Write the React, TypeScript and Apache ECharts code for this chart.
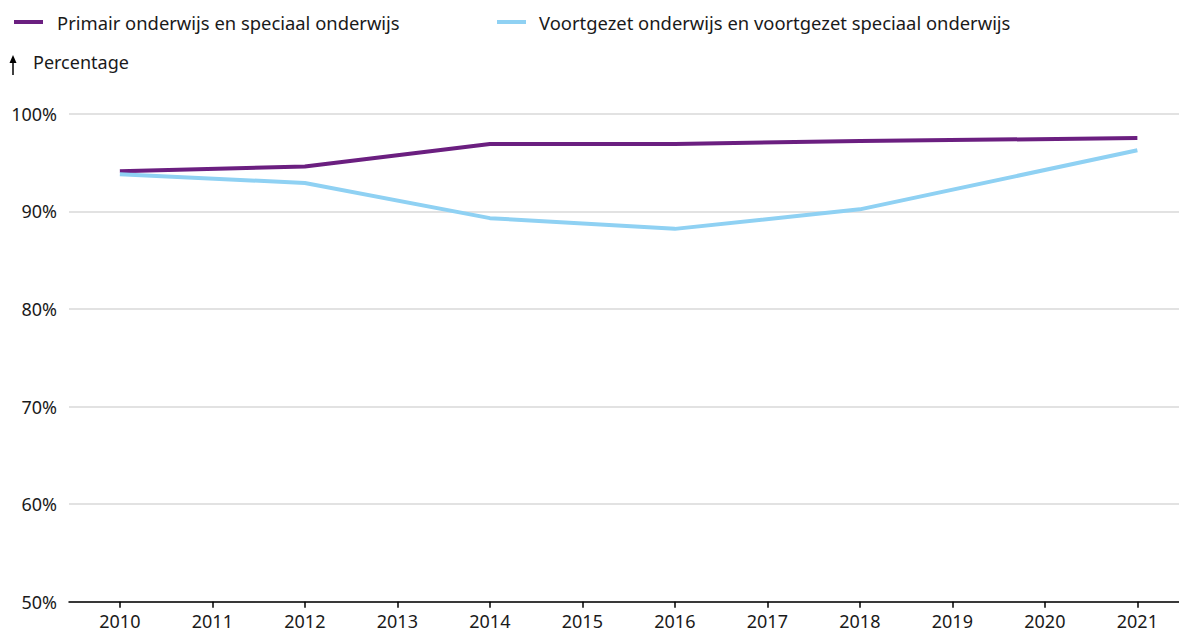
import React, { useEffect, useRef } from "react";
import * as echarts from "echarts";

const years = [2010, 2011, 2012, 2013, 2014, 2015, 2016, 2017, 2018, 2019, 2020, 2021];
const seriesNames = [
  "Primair onderwijs en speciaal onderwijs",
  "Voortgezet onderwijs en voortgezet speciaal onderwijs",
];
const measuredYears = [2010, 2012, 2014, 2016, 2018, 2021];
const primair = [94.1, 94.6, 96.9, 96.9, 97.2, 97.5];
const voortgezet = [93.8, 92.9, 89.3, 88.2, 90.2, 96.25];
const yTicks = [50, 60, 70, 80, 90, 100];
const yAxisTitle = "Percentage";

const FONT = "'Noto Sans', sans-serif";

export default function App() {
  const ref = useRef<HTMLDivElement>(null);
  useEffect(() => {
    if (!ref.current) return;
    const chart = echarts.init(ref.current, undefined, { renderer: "svg" });
    const colors = ["#6b1f80", "#8fd1f3"];
    chart.setOption({
      animation: false,
      textStyle: { fontFamily: FONT },
      legend: seriesNames.map((n, i) => ({
        data: [n],
        left: i === 0 ? 9 : 492,
        top: 8,
        itemWidth: 29,
        itemHeight: 4,
        icon: "rect",
        itemGap: 16,
        textStyle: {
          fontSize: 18.4,
          color: "#1a1a1a",
          fontFamily: FONT,
          padding: [0, 0, 0, i === 0 ? 9 : 8],
        },
      })),
      graphic: [
        {
          type: "line",
          shape: { x1: 13, y1: 60, x2: 13, y2: 75 },
          style: { stroke: "#000", lineWidth: 1.5 },
        },
        {
          type: "polygon",
          shape: { points: [[9.5, 63], [13, 55], [16.5, 63]] },
          style: { fill: "#000" },
        },
        {
          type: "text",
          left: 33,
          top: 53,
          style: { text: yAxisTitle, fontSize: 18, fill: "#1a1a1a", fontFamily: FONT },
        },
      ],
      grid: { left: 69, right: 0, top: 113.7, bottom: 32.3, containLabel: false },
      xAxis: {
        type: "value",
        min: 2009.45,
        max: 2021.45,
        axisLine: { show: true, lineStyle: { color: "#000", width: 1.5 } },
        axisTick: { show: true, length: 6, customValues: years, lineStyle: { color: "#000", width: 1.5 } },
        axisLabel: {
          customValues: years,
          fontSize: 18,
          color: "#1a1a1a",
          margin: 10,
          formatter: (v: number) => String(v),
        },
        splitLine: { show: false },
      },
      yAxis: {
        type: "value",
        min: 50,
        max: 100,
        interval: 10,
        axisLine: { show: false },
        axisTick: { show: false },
        axisLabel: {
          fontSize: 18,
          color: "#1a1a1a",
          margin: 12,
          formatter: (v: number) => (yTicks.includes(v) ? v + "%" : ""),
        },
        splitLine: { lineStyle: { color: "#d9d9d9", width: 1.5 } },
      },
      series: [
        {
          name: seriesNames[0],
          type: "line",
          data: measuredYears.map((y, i) => [y, primair[i]]),
          showSymbol: false,
          symbol: "none",
          lineStyle: { width: 4, color: colors[0] },
          itemStyle: { color: colors[0] },
          z: 2,
        },
        {
          name: seriesNames[1],
          type: "line",
          data: measuredYears.map((y, i) => [y, voortgezet[i]]),
          showSymbol: false,
          symbol: "none",
          lineStyle: { width: 4, color: colors[1] },
          itemStyle: { color: colors[1] },
          z: 3,
        },
      ],
    });
    return () => chart.dispose();
  }, []);
  return (
    <div
      ref={ref}
      style={{ position: "fixed", left: 0, top: 0, width: 1179, height: 634, background: "#fff" }}
    />
  );
}
